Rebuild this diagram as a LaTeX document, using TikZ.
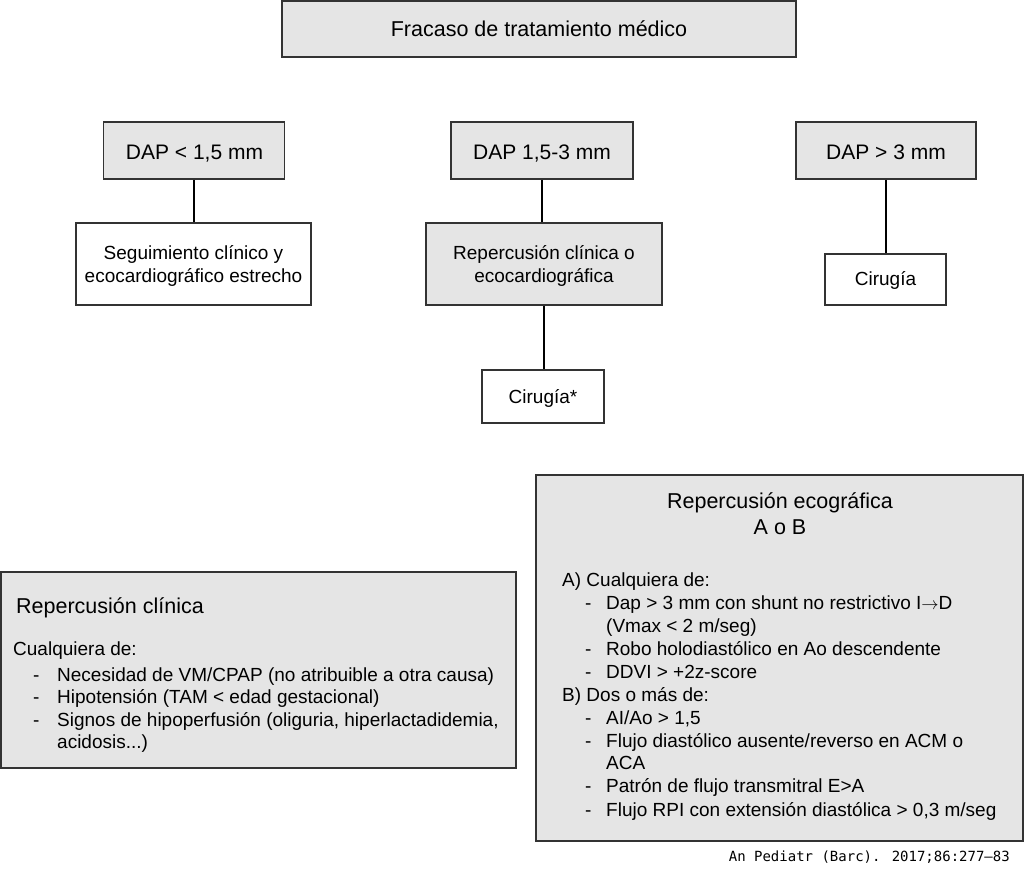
\documentclass[tikz,border=0pt]{standalone}
\usepackage{fontspec}
\setmainfont{Liberation Sans}
\newfontfamily\footmono{DejaVu Sans Mono}
\begin{document}
\begin{tikzpicture}[x=1pt,y=-1pt,
  box/.style={draw=black!80, line width=1.6pt, rectangle, inner sep=0pt, fill=white},
  graybox/.style={box, fill=black!10},
  link/.style={line width=2.6pt, black},
  lbl/.style={anchor=base, inner sep=0pt, font=\fontsize{19}{23}\selectfont},
  biglbl/.style={anchor=base, inner sep=0pt, font=\fontsize{21}{25}\selectfont},
  txt/.style={anchor=mid west, inner sep=0pt, font=\fontsize{19}{23}\selectfont, yshift=-3.5pt},
  ttl/.style={inner sep=0pt, font=\fontsize{21.5}{26}\selectfont}
]
\useasboundingbox (0,0) rectangle (1024,882);

% top
\node[graybox, minimum width=514pt, minimum height=56pt] (top) at (539,29) {};
\node[biglbl, font=\fontsize{21.5}{26}\selectfont] (topt) at (539,36.5) {Fracaso de tratamiento médico};

% DAP boxes
\node[graybox, minimum width=181pt, minimum height=57pt] (d1) at (194,150.5) {};
\node[graybox, minimum width=182pt, minimum height=57pt] (d2) at (542,150.5) {};
\node[graybox, minimum width=180pt, minimum height=57pt] (d3) at (886,150.5) {};
\node[biglbl] (d1t) at (194.5,159.3) {DAP < 1,5 mm};
\node[biglbl] (d2t) at (542,159.3) {DAP 1,5-3 mm};
\node[biglbl] (d3t) at (886,159.3) {DAP > 3 mm};

% second row
\node[box, minimum width=235pt, minimum height=82pt] (s1) at (193.5,264) {};
\node[lbl] (s1a) at (193.5,260) {Seguimiento clínico y};
\node[lbl] (s1b) at (193.5,283) {ecocardiográfico estrecho};
\node[graybox, minimum width=236pt, minimum height=82pt] (r2) at (544,264) {};
\node[lbl] (r2a) at (544,260) {Repercusión clínica o};
\node[lbl] (r2b) at (544,283) {ecocardiográfica};
\node[box, minimum width=121pt, minimum height=51pt] (c3) at (885.5,279.5) {};
\node[lbl] (c3t) at (885.5,286) {Cirugía};
\node[box, minimum width=122pt, minimum height=53pt] (c2) at (543,396.5) {};
\node[lbl] (c2t) at (543,403) {Cirugía*};

% connectors
\draw[link] (d1.south) -- (d1.south |- s1.north);
\draw[link] (d2.south) -- (d2.south |- r2.north);
\draw[link] (d3.south) -- (d3.south |- c3.north);
\draw[link] (r2.south) -- (r2.south |- c2.north);

% bottom left box
\node[graybox, minimum width=515pt, minimum height=196pt] (rc) at (258.5,670) {};
\node[ttl, anchor=mid west, yshift=-4pt] (rct) at (16,607) {Repercusión clínica};
\node[txt] (rc0) at (13,649) {Cualquiera de:};
\node[txt] (rcd1) at (33,675) {-};
\node[txt] (rc1) at (57,675) {Necesidad de VM/CPAP (no atribuible a otra causa)};
\node[txt] (rcd2) at (33,697) {-};
\node[txt] (rc2) at (57,697) {Hipotensión (TAM < edad gestacional)};
\node[txt] (rcd3) at (33,720) {-};
\node[txt] (rc3) at (57,720) {Signos de hipoperfusión (oliguria, hiperlactadidemia,};
\node[txt] (rc4) at (57,742) {acidosis...)};

% bottom right box
\node[graybox, minimum width=487pt, minimum height=366pt] (re) at (779.5,658) {};
\node[ttl, anchor=mid, yshift=-3.5pt] (ret) at (780,502) {Repercusión ecográfica};
\node[ttl, anchor=mid, yshift=-3.5pt] (ret2) at (780,528) {A o B};
\node[txt] (reA) at (562,580) {A) Cualquiera de:};
\node[txt] (red1) at (585,603) {-};
\node[txt] (re1) at (606,603) {Dap > 3 mm con shunt no restrictivo I$\rightarrow$D};
\node[txt] (re1b) at (606,626) {(Vmax < 2 m/seg)};
\node[txt] (red2) at (585,649) {-};
\node[txt] (re2) at (606,649) {Robo holodiastólico en Ao descendente};
\node[txt] (red3) at (585,672) {-};
\node[txt] (re3) at (606,672) {DDVI > +2z-score};
\node[txt] (reB) at (562,695) {B) Dos o más de:};
\node[txt] (red4) at (585,718) {-};
\node[txt] (re4) at (606,718) {AI/Ao > 1,5};
\node[txt] (red5) at (585,741) {-};
\node[txt] (re5) at (606,741) {Flujo diastólico ausente/reverso en ACM o};
\node[txt] (re5b) at (606,763) {ACA};
\node[txt] (red6) at (585,786) {-};
\node[txt] (re6) at (606,786) {Patrón de flujo transmitral E>A};
\node[txt] (red7) at (585,810) {-};
\node[txt] (re7) at (606,810) {Flujo RPI con extensión diastólica > 0,3 m/seg};

% footer
\node[inner sep=0pt, anchor=mid east, font=\footmono\fontsize{14}{16}\selectfont] (foot) at (1010,859) {An Pediatr (Barc). 2017;86:277–83};
\end{tikzpicture}
\end{document}
